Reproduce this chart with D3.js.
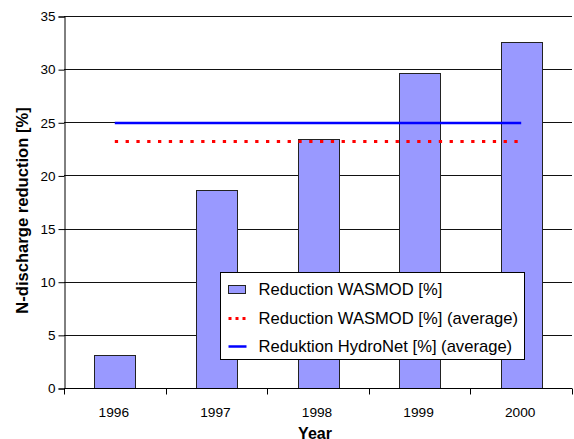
<!DOCTYPE html>
<html>
<head>
<meta charset="utf-8">
<script src="https://cdn.jsdelivr.net/npm/d3@7"></script>
<style>
  body { margin: 0; background: #fff; }
  svg { display: block; font-family: Arial, "Liberation Sans", sans-serif; }
</style>
</head>
<body>
<svg id="chart" width="574" height="439"></svg>
<script>
var years = ["1996", "1997", "1998", "1999", "2000"];
var wasmod = [3.1, 18.65, 23.4, 29.6, 32.55];
var wasmodAvg = 23.2;
var hydroNetAvg = 24.93;
var yTicks = [0, 5, 10, 15, 20, 25, 30, 35];
var legendLabels = [
    "Reduction WASMOD [%]",
    "Reduction WASMOD [%] (average)",
    "Reduktion HydroNet [%] (average)"
];

var plotLeft = 64, plotRight = 572, plotTop = 16, plotBottom = 388;

var svg = d3.select("#chart");

var x = d3.scaleBand()
    .domain(years)
    .range([plotLeft, plotRight])
    .padding(0);

var y = d3.scaleLinear()
    .domain([0, 35])
    .range([plotBottom, plotTop]);

//gridlines
svg.append("g")
    .selectAll("line")
    .data(yTicks.filter(function (d) { return d > 0; }))
    .join("line")
    .attr("x1", plotLeft)
    .attr("x2", plotRight)
    .attr("y1", function (d) { return Math.round(y(d)) + 0.5; })
    .attr("y2", function (d) { return Math.round(y(d)) + 0.5; })
    .attr("stroke", "#111")
    .attr("stroke-width", 1);

//bars
var barW = x.bandwidth() * 0.4;
svg.append("g")
    .selectAll("rect")
    .data(wasmod)
    .join("rect")
    .attr("x", function (d, i) { return Math.round(x(years[i]) + (x.bandwidth() - barW) / 2) + 0.5; })
    .attr("y", function (d) { return Math.round(y(d)) + 0.5; })
    .attr("width", Math.round(barW))
    .attr("height", function (d) { return Math.round(y(0)) - Math.round(y(d)); })
    .attr("fill", "#9999ff")
    .attr("stroke", "#222")
    .attr("stroke-width", 1);

//average lines
var x0 = x(years[0]) + x.bandwidth() / 2,
    x1 = x(years[years.length - 1]) + x.bandwidth() / 2;

svg.append("line")
    .attr("x1", x0).attr("x2", x1)
    .attr("y1", y(hydroNetAvg)).attr("y2", y(hydroNetAvg))
    .attr("stroke", "#0000ff")
    .attr("stroke-width", 2.5);

svg.append("line")
    .attr("x1", x0).attr("x2", x1)
    .attr("y1", y(wasmodAvg)).attr("y2", y(wasmodAvg))
    .attr("stroke", "#ff0000")
    .attr("stroke-width", 3)
    .attr("stroke-dasharray", "3.3 7.5");

//y axis
var yAxis = d3.axisLeft(y)
    .tickValues(yTicks)
    .tickSize(6)
    .tickPadding(3);

var gy = svg.append("g")
    .attr("transform", "translate(" + (plotLeft + 0.5) + ",0.5)")
    .call(yAxis);
gy.select(".domain").attr("stroke", "#000");
gy.selectAll(".tick line").attr("stroke", "#000");
gy.selectAll(".tick text")
    .attr("font-size", 13.5)
    .attr("font-family", "Arial, 'Liberation Sans', sans-serif")
    .attr("fill", "#000");

//x axis
var gx = svg.append("g")
    .attr("transform", "translate(0," + (Math.round(y(0)) + 0.5) + ")");
gx.append("line")
    .attr("x1", plotLeft).attr("x2", plotRight)
    .attr("stroke", "#000");
gx.selectAll(".xt")
    .data(years.concat(["end"]))
    .join("line")
    .attr("class", "xt")
    .attr("x1", function (d, i) { return Math.round(plotLeft + i * x.step()) + 0.5; })
    .attr("x2", function (d, i) { return Math.round(plotLeft + i * x.step()) + 0.5; })
    .attr("y1", 0)
    .attr("y2", 6)
    .attr("stroke", "#000");
gx.selectAll("text")
    .data(years)
    .join("text")
    .attr("x", function (d) { return x(d) + x.bandwidth() / 2 - 1; })
    .attr("y", 28)
    .attr("text-anchor", "middle")
    .attr("font-size", 13.7)
    .attr("fill", "#000")
    .text(function (d) { return d; });

//axis titles
svg.append("text")
    .attr("transform", "translate(27.5,210.5) rotate(-90)")
    .attr("text-anchor", "middle")
    .attr("font-size", 16.6)
    .attr("font-weight", "bold")
    .text("N-discharge reduction [%]");

svg.append("text")
    .attr("x", 315)
    .attr("y", 439)
    .attr("text-anchor", "middle")
    .attr("font-size", 16)
    .attr("font-weight", "bold")
    .text("Year");

//legend
var lg = svg.append("g").attr("transform", "translate(220.5,272.5)");
lg.append("rect")
    .attr("width", 304)
    .attr("height", 87)
    .attr("fill", "#fff")
    .attr("stroke", "#000");

var rowY = [17, 46, 74];
lg.append("rect")
    .attr("x", 8).attr("y", rowY[0] - 4)
    .attr("width", 17).attr("height", 8)
    .attr("fill", "#9999ff").attr("stroke", "#222");
lg.append("line")
    .attr("x1", 8).attr("x2", 26)
    .attr("y1", rowY[1]).attr("y2", rowY[1])
    .attr("stroke", "#ff0000").attr("stroke-width", 3)
    .attr("stroke-dasharray", "3 4");
lg.append("line")
    .attr("x1", 8).attr("x2", 26)
    .attr("y1", rowY[2]).attr("y2", rowY[2])
    .attr("stroke", "#0000ff").attr("stroke-width", 2.5);

lg.selectAll("text")
    .data(legendLabels)
    .join("text")
    .attr("x", 38)
    .attr("y", function (d, i) { return rowY[i]; })
    .attr("dy", "0.36em")
    .attr("font-size", 16.6)
    .attr("fill", "#000")
    .text(function (d) { return d; });
</script>
</body>
</html>
